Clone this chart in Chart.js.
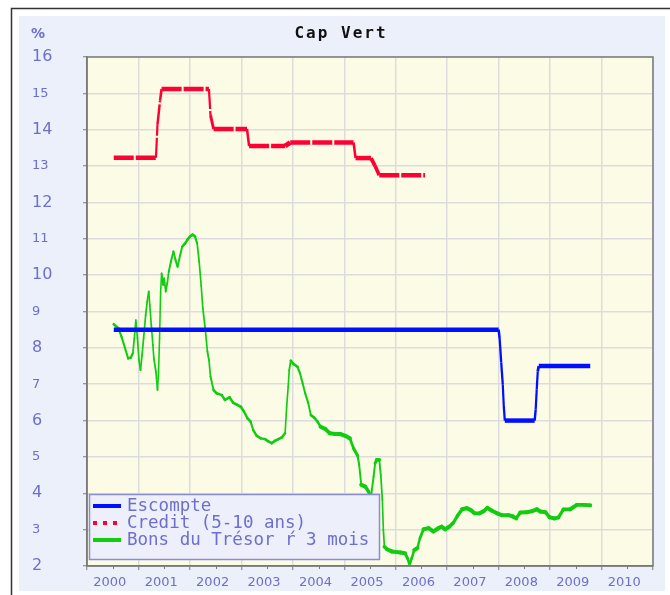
<!DOCTYPE html>
<html>
<head>
<meta charset="utf-8">
<title>Cap Vert</title>
<script src="https://cdn.jsdelivr.net/npm/chart.js@4"></script>
<style>
  html, body { margin: 0; padding: 0; background: #fff; }
  canvas { display: block; }
</style>
</head>
<body>
<canvas id="rateChart" width="670" height="595"></canvas>
<script>
// Year labels shown under the x axis
const yearLabels = ['2000', '2001', '2002', '2003', '2004', '2005', '2006', '2007', '2008', '2009', '2010'];

// Escompte (discount rate), %
const escompteDates = [2000.02, 2007.50, 2007.52, 2007.55, 2007.58, 2007.60, 2007.62, 2008.20, 2008.22, 2008.24, 2008.26, 2008.28, 2009.28];
const escompteRates = [8.5, 8.5, 8.25, 7.6, 7.0, 6.4, 6.0, 6.0, 6.3, 6.85, 7.35, 7.5, 7.5];

// Credit (5-10 ans), %
const creditDates = [2000.02, 2000.84, 2000.87, 2000.92, 2000.95, 2001.87, 2001.90, 2001.96, 2002.61, 2002.65, 2003.35, 2003.45, 2004.68, 2004.72, 2005.02, 2005.10, 2005.18, 2006.07];
const creditRates = [13.23, 13.23, 14.15, 14.8, 15.12, 15.12, 14.4, 14.02, 14.02, 13.55, 13.55, 13.65, 13.65, 13.22, 13.22, 13.0, 12.75, 12.75];

// Bons du Tresor a 3 mois, %
const tbillDates = [
  2000.02, 2000.11, 2000.17, 2000.24, 2000.30, 2000.35, 2000.39, 2000.42, 2000.45, 2000.48,
  2000.51, 2000.54, 2000.57, 2000.60, 2000.64, 2000.67, 2000.70, 2000.72, 2000.75, 2000.78,
  2000.80, 2000.84, 2000.87, 2000.89, 2000.91, 2000.93, 2000.95, 2000.98, 2001.00, 2001.03,
  2001.06, 2001.09, 2001.13, 2001.18, 2001.22, 2001.26, 2001.31, 2001.35, 2001.41, 2001.45,
  2001.50, 2001.55, 2001.60, 2001.64, 2001.68, 2001.72, 2001.75, 2001.80, 2001.84, 2001.87,
  2001.90, 2001.96, 2002.02, 2002.12, 2002.18, 2002.27, 2002.34, 2002.42, 2002.49, 2002.55,
  2002.62, 2002.68, 2002.73, 2002.80, 2002.88, 2002.96, 2003.03, 2003.09, 2003.16, 2003.22,
  2003.29, 2003.35, 2003.38, 2003.41, 2003.43, 2003.46, 2003.51, 2003.59, 2003.64, 2003.69,
  2003.74, 2003.80, 2003.85, 2003.91, 2003.98, 2004.04, 2004.13, 2004.22, 2004.32, 2004.42,
  2004.52, 2004.61, 2004.68, 2004.76, 2004.79, 2004.83, 2004.91, 2004.97, 2005.02, 2005.07,
  2005.10, 2005.13, 2005.18, 2005.21, 2005.24, 2005.26, 2005.28, 2005.33, 2005.42, 2005.59,
  2005.68, 2005.73, 2005.77, 2005.81, 2005.86, 2005.92, 2005.97, 2006.04, 2006.14, 2006.23,
  2006.33, 2006.39, 2006.46, 2006.54, 2006.62, 2006.70, 2006.79, 2006.88, 2006.96, 2007.03,
  2007.13, 2007.21, 2007.28, 2007.37, 2007.47, 2007.56, 2007.69, 2007.78, 2007.84, 2007.92,
  2008.05, 2008.15, 2008.24, 2008.31, 2008.41, 2008.49, 2008.58, 2008.66, 2008.76, 2008.89,
  2009.02, 2009.15, 2009.28
];
const tbillRates = [
  8.65, 8.54, 8.31, 7.99, 7.71, 7.73, 7.85, 8.26, 8.77, 8.26,
  7.67, 7.39, 7.80, 8.26, 8.90, 9.27, 9.55, 9.18, 8.63, 8.08,
  7.71, 7.34, 6.84, 7.34, 8.26, 9.50, 10.05, 9.73, 9.91, 9.55,
  9.78, 10.10, 10.37, 10.65, 10.42, 10.23, 10.55, 10.78, 10.88, 10.97,
  11.06, 11.12, 11.06, 10.88, 10.37, 9.70, 9.10, 8.50, 7.90, 7.67,
  7.21, 6.84, 6.75, 6.70, 6.57, 6.64, 6.49, 6.43, 6.38, 6.25,
  6.06, 5.97, 5.74, 5.58, 5.51, 5.49, 5.42, 5.38, 5.45, 5.49,
  5.54, 5.65, 6.38, 6.93, 7.39, 7.65, 7.56, 7.48, 7.30, 7.03,
  6.75, 6.48, 6.15, 6.09, 5.97, 5.83, 5.77, 5.65, 5.63, 5.63,
  5.58, 5.51, 5.24, 5.03, 4.78, 4.23, 4.18, 4.05, 3.91, 4.46,
  4.83, 4.92, 4.92, 4.50, 3.82, 2.99, 2.53, 2.46, 2.40, 2.37,
  2.35, 2.21, 2.03, 2.21, 2.44, 2.49, 2.76, 3.01, 3.04, 2.95,
  3.04, 3.08, 3.01, 3.08, 3.19, 3.38, 3.56, 3.59, 3.54, 3.45,
  3.45, 3.51, 3.60, 3.52, 3.45, 3.40, 3.40, 3.36, 3.31, 3.47,
  3.48, 3.51, 3.56, 3.50, 3.48, 3.34, 3.31, 3.33, 3.56, 3.56,
  3.68, 3.68, 3.67
];

const TEXT_BLUE = '#6e6ecc';

function toPoints(dates, values) {
  return dates.map((d, i) => ({ x: d, y: values[i] }));
}

// flat pen: thick when moving sideways, thin when moving up or down
function penWidth(flat, steep) {
  return ctx => {
    const dx = Math.abs(ctx.p1.x - ctx.p0.x);
    const dy = Math.abs(ctx.p1.y - ctx.p0.y);
    const len = Math.hypot(dx, dy) || 1;
    return (flat * dx + steep * dy) / len;
  };
}

const legendItems = [
  { text: 'Escompte', color: '#0010ff', dash: [] },
  { text: 'Credit (5-10 ans)', color: '#ff0033', dash: [4, 6] },
  { text: 'Bons du Trésor ŕ 3 mois', color: '#11cc11', dash: [] }
];

const framePlugin = {
  id: 'frame',
  beforeDraw(chart) {
    const c = chart.ctx;
    const a = chart.chartArea;
    c.save();
    c.fillStyle = '#ffffff';
    c.fillRect(0, 0, chart.width, chart.height);
    c.fillStyle = '#ecf0fa';
    c.fillRect(19, 16, 646, 575);
    c.strokeStyle = '#333';
    c.lineWidth = 1.5;
    c.beginPath();
    c.moveTo(11.5, 595);
    c.lineTo(11.5, 8.5);
    c.lineTo(670, 8.5);
    c.stroke();
    c.fillStyle = '#fcfce6';
    c.fillRect(a.left, a.top, a.right - a.left, a.bottom - a.top);

    c.fillStyle = '#111';
    c.font = 'bold 16px "DejaVu Sans Mono"';
    c.letterSpacing = '2px';
    c.textAlign = 'center';
    c.textBaseline = 'middle';
    c.fillText('Cap Vert', 341, 34);
    c.letterSpacing = '0px';
    c.fillStyle = TEXT_BLUE;
    c.font = 'bold 14px "DejaVu Sans"';
    c.textAlign = 'left';
    c.fillText('%', 31, 34);
    c.restore();
  },
  afterDatasetsDraw(chart) {
    const c = chart.ctx;
    c.save();
    // legend box
    c.fillStyle = '#edf0fb';
    c.fillRect(89, 494, 291, 66);
    c.strokeStyle = '#8c8cd2';
    c.lineWidth = 1.5;
    c.strokeRect(89.5, 494.5, 290, 65);
    c.font = '17.5px "DejaVu Sans Mono"';
    c.textBaseline = 'middle';
    c.textAlign = 'left';
    legendItems.forEach((item, i) => {
      const y = 506 + i * 17;
      c.strokeStyle = item.color;
      c.lineWidth = 4;
      c.setLineDash(item.dash);
      c.beginPath();
      c.moveTo(93, y);
      c.lineTo(121, y);
      c.stroke();
      c.setLineDash([]);
      c.fillStyle = TEXT_BLUE;
      c.fillText(item.text, 127, y);
    });
    c.restore();
  },
  afterDraw(chart) {
    const c = chart.ctx;
    const a = chart.chartArea;
    const xs = chart.scales.x;
    c.save();
    c.strokeStyle = '#7a7a7a';
    c.lineWidth = 1.5;
    c.strokeRect(a.left, a.top, a.right - a.left, a.bottom - a.top);
    // short ticks in the middle of each year band
    c.lineWidth = 1;
    c.beginPath();
    yearLabels.forEach((_, i) => {
      const x = Math.round(xs.getPixelForValue(i)) + 0.5;
      c.moveTo(x, a.bottom);
      c.lineTo(x, a.bottom + 3);
    });
    c.stroke();
    c.restore();
  }
};

function createRateChart() {
  const ctx = document.getElementById('rateChart').getContext('2d');
  new Chart(ctx, {
    type: 'line',
    data: {
      labels: yearLabels,
      datasets: [
        {
          label: 'Escompte',
          data: toPoints(escompteDates, escompteRates),
          xAxisID: 'xv',
          borderColor: '#0010ff',
          borderWidth: 4,
          segment: { borderWidth: penWidth(4.5, 2) }
        },
        {
          label: 'Credit (5-10 ans)',
          data: toPoints(creditDates, creditRates),
          xAxisID: 'xv',
          borderColor: '#ff0033',
          borderWidth: 4,
          borderDash: [20, 2],
          segment: { borderWidth: penWidth(4.5, 2) }
        },
        {
          label: 'Bons du Trésor ŕ 3 mois',
          data: toPoints(tbillDates, tbillRates),
          xAxisID: 'xv',
          borderColor: '#11cc11',
          borderWidth: 3,
          borderCapStyle: 'round',
          borderJoinStyle: 'round',
          segment: {
            // earlier weekly series draws thinner than the later one
            borderWidth: ctx => penWidth(tbillDates[ctx.p0DataIndex] < 2004 ? 2.2 : 3.8, 1.5)(ctx)
          }
        }
      ]
    },
    options: {
      responsive: false,
      animation: false,
      devicePixelRatio: 1,
      layout: { padding: { left: 32, top: 57, right: 17, bottom: 0 } },
      elements: { point: { radius: 0, hoverRadius: 0 }, line: { tension: 0 } },
      scales: {
        x: {
          type: 'category',
          offset: true,
          afterFit: scale => { scale.height = 29; },
          grid: { offset: true, color: '#dcdcdc', lineWidth: 1.5, tickLength: 4, tickColor: '#7a7a7a', tickWidth: 1 },
          border: { color: '#7a7a7a', width: 1.5 },
          ticks: {
            color: TEXT_BLUE,
            padding: 5,
            labelOffset: -3,
            maxRotation: 0,
            autoSkip: false,
            font: { family: 'DejaVu Sans', size: 13 }
          }
        },
        xv: {
          type: 'linear',
          display: false,
          min: 1999.5,
          max: 2010.5
        },
        y: {
          min: 2,
          max: 16,
          afterFit: scale => { scale.width = 55; },
          grid: { color: '#dcdcdc', lineWidth: 1.5, tickLength: 4, tickColor: '#7a7a7a', tickWidth: 1 },
          border: { color: '#7a7a7a', width: 1.5 },
          ticks: {
            stepSize: 1,
            maxTicksLimit: 20,
            crossAlign: 'far',
            color: TEXT_BLUE,
            font: ctx => ({ family: 'DejaVu Sans', size: ctx.tick && ctx.tick.value % 2 === 0 ? 16 : 13 })
          }
        }
      },
      plugins: {
        legend: { display: false },
        title: { display: false },
        tooltip: { enabled: false }
      }
    },
    plugins: [framePlugin]
  });
}

document.addEventListener('DOMContentLoaded', function() {
  createRateChart();
});
</script>
</body>
</html>
